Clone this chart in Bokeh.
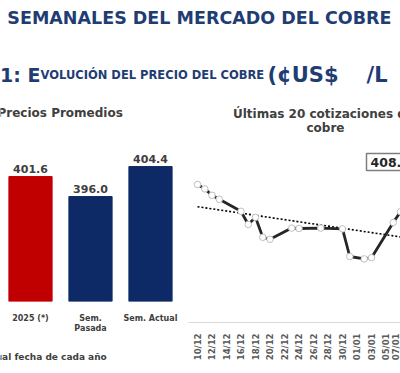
import math
import numpy as np
import pandas as pd
from bokeh.plotting import figure
from bokeh.models import Range1d, FactorRange, Label, FixedTicker, DatetimeTickFormatter
from bokeh.layouts import column, row
from bokeh.core.properties import value
from bokeh.embed import file_html
from bokeh.resources import INLINE

FONT = "DejaVu Sans"
TITLE_BLUE = "#1F3D73"
DARK_GRAY = "#404040"

# ---------------- data ----------------
bar_categories = ["2025 (*)", "Sem.\nPasada", "Sem. Actual"]
bar_values = [401.6, 396.0, 404.4]
bar_colors = ["#C00000", "#0D2A66", "#0D2A66"]

quote_dates = ["2024-12-10", "2024-12-11", "2024-12-12", "2024-12-13",
               "2024-12-16", "2024-12-17", "2024-12-18", "2024-12-19", "2024-12-20",
               "2024-12-23", "2024-12-24", "2024-12-27", "2024-12-30", "2024-12-31",
               "2025-01-02", "2025-01-03", "2025-01-06", "2025-01-07", "2025-01-08",
               "2025-01-09"]
quote_values = [412.3, 411.2, 409.6, 408.6,
                405.6, 402.3, 404.1, 399.1, 398.6,
                401.4, 401.3, 401.4, 401.2, 394.3,
                393.7, 394.0, 402.8, 405.5, 401.0,
                408.3]
tick_dates = ["2024-12-10", "2024-12-12", "2024-12-14", "2024-12-16", "2024-12-18",
              "2024-12-20", "2024-12-22", "2024-12-24", "2024-12-26", "2024-12-28",
              "2024-12-30", "2025-01-01", "2025-01-03", "2025-01-05", "2025-01-07",
              "2025-01-09"]
last_quote_label = "408.3"


def to_ms(s):
    return pd.Timestamp(s).value / 1e6


def bare(fig):
    fig.grid.visible = False
    fig.outline_line_color = None
    fig.background_fill_color = "white"
    fig.border_fill_color = "white"
    return fig


# ---------------- header (titles) ----------------
header = bare(figure(width=400, height=135, x_range=Range1d(0, 400), y_range=Range1d(135, 0),
                     output_backend="svg", toolbar_location=None, min_border=0,
                     x_axis_location=None, y_axis_location=None, title=None))

header.text(x=[391], y=[17], text=["SEMANALES DEL MERCADO DEL COBRE"], text_align="right",
            text_baseline="middle", text_font=value(FONT), text_font_style="bold",
            text_font_size="17.5px", text_color=TITLE_BLUE)
header.text(x=[40], y=[74], text=["A 1: E"], text_align="right", text_baseline="alphabetic",
            text_font=value(FONT), text_font_style="bold", text_font_size="19px",
            text_color=TITLE_BLUE)
header.text(x=[40], y=[74], text=["VOLUCIÓN DEL PRECIO DEL COBRE"], text_align="left",
            text_baseline="alphabetic", text_font=value(FONT), text_font_style="bold",
            text_font_size="11.5px", text_color=TITLE_BLUE)
header.text(x=[267, 366], y=[74, 74], text=["(¢US$", "/L"], text_align="left",
            text_baseline="alphabetic", text_font=value(FONT), text_font_style="bold",
            text_font_size="21px", text_color=TITLE_BLUE)
header.text(x=[-3], y=[112], text=["Precios Promedios"], text_align="left", text_baseline="middle",
            text_font=value(FONT), text_font_style="bold", text_font_size="12px",
            text_color=DARK_GRAY)
header.text(x=[325, 325], y=[113, 127], text=["Últimas 20 cotizaciones del", "cobre"],
            text_align="center", text_baseline="middle", text_font=value(FONT),
            text_font_style="bold", text_font_size="12px", text_color=DARK_GRAY)

# ---------------- bar chart ----------------
Y0_BAR = 366.6
bf = bare(figure(width=188, height=205, x_range=FactorRange(factors=bar_categories, range_padding=0),
                 y_range=Range1d(Y0_BAR, 413.1), output_backend="svg", toolbar_location=None,
                 min_border_left=0, min_border_right=8, min_border_top=0, min_border_bottom=39,
                 y_axis_location=None, title=None))
bf.vbar(x=bar_categories, top=bar_values, bottom=Y0_BAR, width=0.72,
        fill_color=bar_colors, line_color=bar_colors)
bf.text(x=bar_categories, y=bar_values, text=[f"{v:.1f}" for v in bar_values],
        text_align="center", text_baseline="bottom", y_offset=-4,
        text_font=value(FONT), text_font_style="bold", text_font_size="11px",
        text_color=DARK_GRAY)
bf.xaxis.axis_line_color = None
bf.xaxis.major_tick_line_color = None
bf.xaxis.minor_tick_line_color = None
bf.xaxis.major_label_text_font = FONT
bf.xaxis.major_label_text_font_style = "bold"
bf.xaxis.major_label_text_font_size = "8px"
bf.xaxis.major_label_text_color = DARK_GRAY
bf.xaxis.major_label_standoff = 6

# footer under bar chart
footer = bare(figure(width=188, height=33, x_range=Range1d(0, 188), y_range=Range1d(33, 0),
                     output_backend="svg", toolbar_location=None, min_border=0,
                     x_axis_location=None, y_axis_location=None, title=None))
footer.text(x=[111], y=[16], text=["(*) A igual fecha de cada año"], text_align="right",
            text_baseline="middle", text_font=value(FONT), text_font_style="bold",
            text_font_size="9px", text_color=DARK_GRAY)

# ---------------- line chart ----------------
PX_PER_DAY = 7.25
DAY_MS = 86400000.0
x0 = to_ms(quote_dates[0])
x_ms = [to_ms(d) for d in quote_dates]
lf = bare(figure(width=212, height=238, x_axis_type="datetime",
                 x_range=Range1d(x0 - DAY_MS * 9 / PX_PER_DAY, x0 + DAY_MS * (212 - 9) / PX_PER_DAY),
                 y_range=Range1d(377.8, 423.3), output_backend="svg", toolbar_location=None,
                 min_border_left=0, min_border_right=0, min_border_top=5, min_border_bottom=51,
                 y_axis_location=None, title=None))

t_days = (np.array(x_ms) - x0) / DAY_MS
coef = np.polyfit(t_days, np.array(quote_values), 1)
trend_x = [x_ms[0], x_ms[-1]]
trend_y = [float(np.polyval(coef, t_days[0])), float(np.polyval(coef, t_days[-1]))]
lf.line(trend_x, trend_y, line_color="black", line_width=1.6, line_dash="2 2")
lf.line(x_ms, quote_values, line_color="#262626", line_width=2.8)
lf.scatter(x_ms, quote_values, size=6.5, fill_color="white", line_color="#BFBFBF", line_width=1)

lf.xaxis.ticker = FixedTicker(ticks=[to_ms(d) for d in tick_dates])
lf.xaxis.formatter = DatetimeTickFormatter(days="%d/%m", months="%d/%m", years="%d/%m",
                                           hours="%d/%m", hourmin="%d/%m", minutes="%d/%m")
lf.xaxis.axis_line_color = "#D9D9D9"
lf.xaxis.major_tick_line_color = None
lf.xaxis.minor_tick_line_color = None
lf.xaxis.major_label_orientation = math.pi / 2
lf.xaxis.major_label_text_font = FONT
lf.xaxis.major_label_text_font_style = "bold"
lf.xaxis.major_label_text_font_size = "8.5px"
lf.xaxis.major_label_text_color = "#595959"
lf.xaxis.major_label_standoff = 5

lf.add_layout(Label(x=178, y=160.5, x_units="screen", y_units="screen", text=last_quote_label,
                    text_font=FONT, text_font_style="bold", text_font_size="12.5px",
                    text_color="#262626", text_align="left", text_baseline="middle",
                    border_line_color="#7F7F7F", border_line_width=1.5,
                    background_fill_color="white", padding=4))

layout = column(header, row(column(bf, footer), lf))

open("out.html", "w").write(file_html(layout, INLINE))
